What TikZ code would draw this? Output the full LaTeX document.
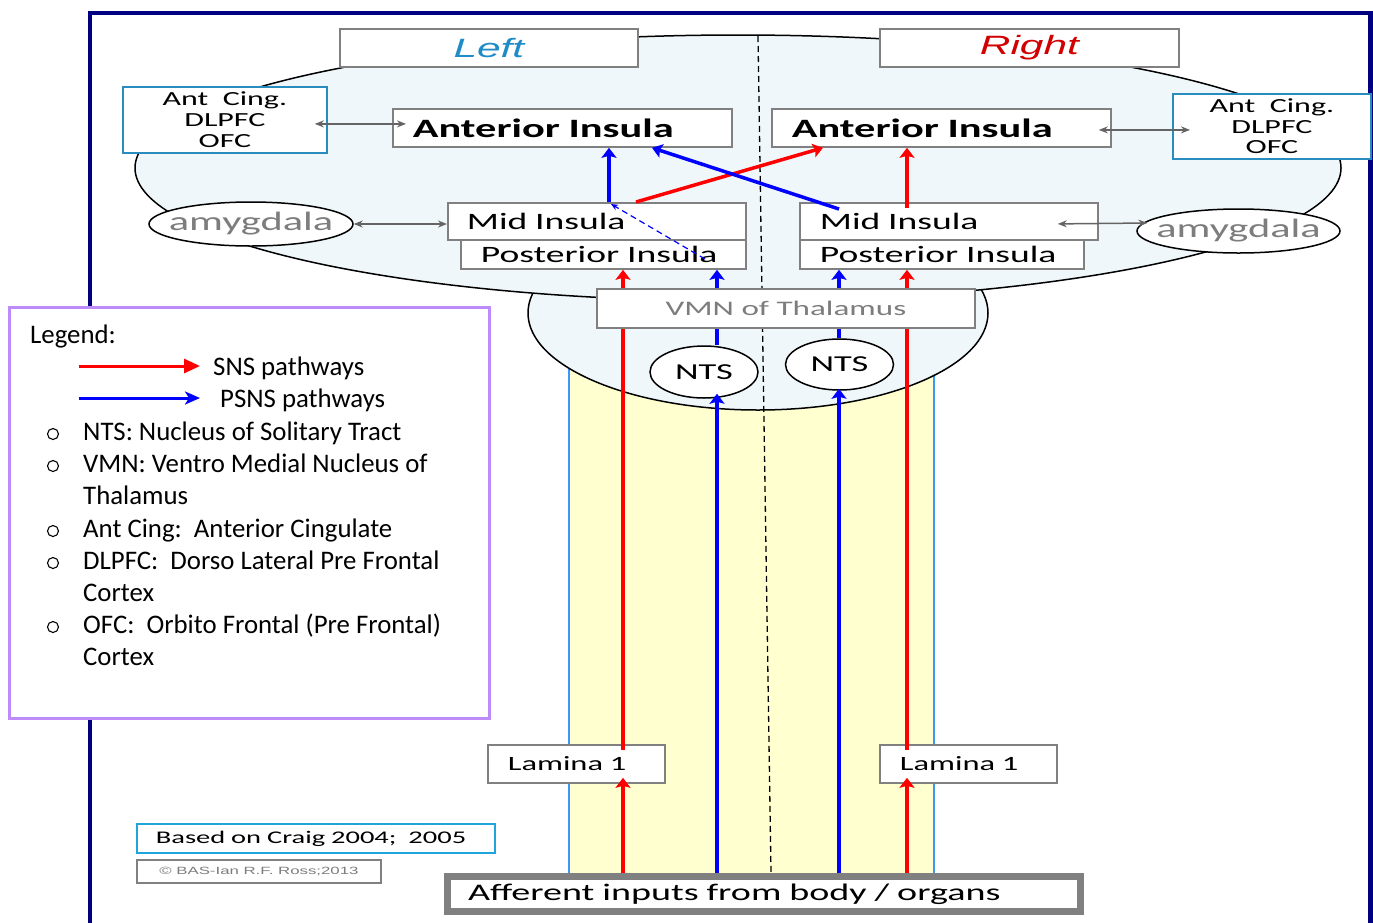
\documentclass[tikz,border=0pt]{standalone}
\usepackage{fontspec}
\setmainfont{Carlito}
\newfontfamily\wf[FakeStretch=1.6]{Carlito}
\newfontfamily\wfa[FakeStretch=1.6]{Liberation Sans}
\usetikzlibrary{shapes.geometric,arrows.meta,calc}
\definecolor{navyf}{RGB}{0,0,128}
\definecolor{brainc}{RGB}{240,247,250}
\definecolor{colyel}{RGB}{255,255,208}
\definecolor{colline}{RGB}{60,150,255}
\definecolor{boxgray}{RGB}{128,128,128}
\definecolor{cingblue}{RGB}{40,140,190}
\definecolor{craigblue}{RGB}{30,165,220}
\definecolor{legviolet}{RGB}{190,140,250}
\definecolor{leftc}{RGB}{30,140,200}
\definecolor{rightc}{RGB}{210,0,0}
\definecolor{txtgray}{RGB}{125,125,125}
\definecolor{arrgray}{RGB}{100,100,100}
\tikzset{
  gbox/.style={draw=boxgray, line width=1.8pt, fill=white, inner ysep=0pt, anchor=north west},
  lpad/.style 2 args={text width=#1pt, inner xsep=#2pt, align=left},
  amyg/.style={ellipse, draw=black, line width=1.5pt, fill=white, minimum width=204pt, minimum height=44pt, inner sep=0pt},
  amytxt/.style={text=txtgray, inner sep=0pt, font=\wf\fontsize{26.5}{28}\selectfont},
  ntsnode/.style={ellipse, draw=black, line width=1.5pt, fill=white, minimum width=108pt, minimum height=52pt, inner sep=0pt, font=\wf\fontsize{22.8}{24}\selectfont},
  sns/.style={draw=red, line width=4.5pt, -{Stealth[length=10pt,width=15pt,inset=2pt]}},
  psns/.style={draw=blue, line width=4.5pt, -{Stealth[length=10pt,width=15pt,inset=2pt]}},
  snsdiag/.style={draw=red, line width=3.5pt, -{Stealth[length=10pt,width=14pt,inset=2pt]}},
  psnsdiag/.style={draw=blue, line width=3.5pt, -{Stealth[length=10pt,width=14pt,inset=2pt]}},
  dashblue/.style={draw=blue, line width=1.2pt, dash pattern=on 6pt off 4pt, -{Stealth[length=7pt,width=6pt]}},
  dbl/.style={draw=arrgray, line width=1.5pt, {Stealth[length=9pt,width=7pt]}-{Stealth[length=9pt,width=7pt]}},
  legtxt/.style={anchor=base west, inner sep=0pt, font=\fontsize{26.8}{30}\selectfont},
}
\begin{document}
\begin{tikzpicture}[x=1pt,y=-1pt]
\useasboundingbox (0,0) rectangle (1373,922);
\clip (0,0) rectangle (1373,922);
\fill[white] (0,0) rectangle (1373,922);
% frame
\draw[navyf, line width=4.5pt] (90,13) rectangle (1370.5,960);
% spinal column
\fill[colyel] (569,330) rectangle (934,873);
\draw[colline, line width=1.5pt] (569,330) -- (569,873) (934,330) -- (934,873);
% thalamus and brain
\draw[fill=brainc, line width=1.5pt] (758,313) ellipse [x radius=230pt, y radius=97pt];
\draw[fill=brainc, line width=1.5pt] (738,168) ellipse [x radius=603pt, y radius=133pt];
% midline
\draw[line width=1.3pt, dash pattern=on 6pt off 4pt] (758,36) -- (771,872);

% side labels
\node[gbox, minimum width=298pt, minimum height=38pt, text=leftc, font=\wfa\itshape\fontsize{26.5}{28}\selectfont] (leftlab) at (339,28) {Left};
\node[gbox, minimum width=299pt, minimum height=38pt, text=rightc, font=\wfa\itshape\fontsize{26.5}{28}\selectfont] (rightlab) at (879,28) {Right};

% cingulate boxes
\node[gbox, draw=cingblue, minimum width=204pt, minimum height=66pt, align=center, font=\wf\fontsize{20}{21}\selectfont] (acL) at (122,86) {Ant\ \ Cing.\\DLPFC\\OFC};
\node[gbox, draw=cingblue, minimum width=198pt, minimum height=65pt, align=center, font=\wf\fontsize{20}{20.5}\selectfont] (acR) at (1172,93) {Ant\ \ Cing.\\DLPFC\\OFC};

% insula boxes
\node[gbox, minimum width=339pt, minimum height=38pt, lpad={299}{20}, font=\wf\bfseries\fontsize{26.5}{28}\selectfont] (antL) at (392,108) {\mbox{Anterior Insula}};
\node[gbox, minimum width=339pt, minimum height=38pt, lpad={299}{20}, font=\wf\bfseries\fontsize{26.5}{28}\selectfont] (antR) at (771,108) {\mbox{Anterior Insula}};
\node[gbox, minimum width=298pt, minimum height=37pt, lpad={260}{19}, font=\wf\fontsize{23.5}{25}\selectfont] (midL) at (447,202) {\mbox{Mid Insula}};
\node[gbox, minimum width=285pt, minimum height=29pt, lpad={245}{20}, font=\wf\fontsize{23.5}{25}\selectfont] (postL) at (460,239) {\mbox{Posterior Insula}};
\node[gbox, minimum width=298pt, minimum height=37pt, lpad={258}{20}, font=\wf\fontsize{23.5}{25}\selectfont] (midR) at (799,202) {\mbox{Mid Insula}};
\node[gbox, minimum width=284pt, minimum height=29pt, lpad={244}{20}, font=\wf\fontsize{23.5}{25}\selectfont] (postR) at (799,239) {\mbox{Posterior Insula}};

% amygdala
\node[amyg, label={[amytxt]center:amygdala}] (amyL) at (251,224) {};
\node[amyg, minimum width=203pt, label={[amytxt]center:amygdala}] (amyR) at (1238.5,231) {};

% NTS
\node[ntsnode] (ntsL) at (704,372) {NTS};
\node[ntsnode, minimum height=51pt] (ntsR) at (839.5,364.5) {NTS};

% lamina
\node[gbox, minimum width=177pt, minimum height=38pt, lpad={137}{20}, font=\wf\fontsize{20.3}{22}\selectfont] (lamL) at (487,744) {\mbox{Lamina 1}};
\node[gbox, minimum width=177pt, minimum height=38pt, lpad={137}{20}, font=\wf\fontsize{20.3}{22}\selectfont] (lamR) at (879,744) {\mbox{Lamina 1}};

% credits
\node[gbox, draw=craigblue, minimum width=358pt, minimum height=29pt, lpad={320}{19}, font=\wf\fontsize{17.8}{19}\selectfont] (craig) at (136,823) {\mbox{Based on Craig 2004;\ \ 2005}};
\node[gbox, minimum width=244pt, minimum height=23pt, text=txtgray, font=\wfa\fontsize{10.5}{12}\selectfont] (copyr) at (136,859) {\textcopyright{} BAS-Ian R.F. Ross;2013};

% afferent
\node[gbox, line width=7pt, outer sep=3.5pt, minimum width=633pt, minimum height=35pt, lpad={592}{20.5}, font=\wf\fontsize{23.8}{25}\selectfont] (aff) at (444,873) {\mbox{Afferent inputs from body / organs}};

% x positions of pathways
\coordinate (xRL) at (623,0);
\coordinate (xBL) at (717,0);
\coordinate (xBR) at (839,0);
\coordinate (xRR) at (907,0);
\coordinate (xBV) at (609,0);
\coordinate (xRD) at (636,0);
\coordinate (xRT) at (823,0);
\coordinate (xBT) at (652,0);

% ascending pathways
\draw[sns] (aff.north -| xRL) -- ($(lamL.south -| xRL)+(0,-6)$);
\draw[sns] ($(lamL.north -| xRL)+(0,6)$) -- (postL.south -| xRL);
\draw[psns] (aff.north -| xBL) -- ($(ntsL.south -| xBL)+(0,-5)$);
\draw[psns] (ntsL.north -| xBL) -- (postL.south -| xBL);
\draw[psns] (aff.north -| xBR) -- ($(ntsR.south -| xBR)+(0,-2)$);
\draw[psns] (ntsR.north -| xBR) -- (postR.south -| xBR);
\draw[sns] (aff.north -| xRR) -- ($(lamR.south -| xRR)+(0,-6)$);
\draw[sns] ($(lamR.north -| xRR)+(0,6)$) -- (postR.south -| xRR);

% within insula
\draw[psns] (midL.north -| xBV) -- (antL.south -| xBV);
\draw[snsdiag] (midL.north -| xRD) -- (antR.south -| xRT);
\draw[psnsdiag] ($(midR.north -| xBR)+(0,7)$) -- (antL.south -| xBT);
\draw[sns] ($(midR.north -| xRR)+(0,6)$) -- (antR.south -| xRR);
\draw[dashblue] ($(postL.north west)+(245,20)$) -- ($(midL.north west)+(164,2)$);

% grey two-way links
\draw[dbl] ($(acL.east)+(-13,4)$) -- ($(antL.west)+(14,-4)$);
\draw[dbl] (amyL.east) -- (midL.west |- amyL.east);
\draw[dbl] ($(antR.east)+(-13,2)$) -- ($(acR.west)+(18,3.5)$);
\draw[dbl] ($(midR.east)+(-41,2.5)$) -- ($(amyR.west)+(11,-8)$);

% VMN on top
\node[gbox, minimum width=378pt, minimum height=39pt, text=txtgray, font=\wf\fontsize{20.7}{22}\selectfont] (vmn) at (596,288) {VMN of Thalamus};

% legend
\node[draw=legviolet, line width=2.5pt, fill=white, anchor=north west, minimum width=480pt, minimum height=411pt, inner sep=0pt] (legend) at (8,306) {};
\node[legtxt] (lg0) at (30,343) {Legend:};
\coordinate (lr1) at (79,366);
\coordinate (lr2) at (200,366);
\draw[red, line width=3pt, -{Triangle[length=16pt,width=14pt]}] (lr1) -- (lr2);
\node[legtxt] (lg1) at (213,375) {SNS pathways};
\coordinate (lb1) at (79,398);
\coordinate (lb2) at (200,398);
\draw[blue, line width=3pt, -{Stealth[length=15pt,width=13pt,inset=4pt]}] (lb1) -- (lb2);
\node[legtxt] (lg2) at (220,407) {PSNS pathways};
\foreach \yy in {434,466,531,563,627} \draw[line width=1.1pt] (53,\yy) circle [radius=5.5pt];
\node[legtxt] (it1) at (83,440) {NTS: Nucleus of Solitary Tract};
\node[legtxt] (it2) at (83,472) {VMN: Ventro Medial Nucleus of};
\node[legtxt] (it3) at (83,504) {Thalamus};
\node[legtxt] (it4) at (83,537) {Ant Cing:\ \ Anterior Cingulate};
\node[legtxt] (it5) at (83,569) {DLPFC:\ \ Dorso Lateral Pre Frontal};
\node[legtxt] (it6) at (83,601) {Cortex};
\node[legtxt] (it7) at (83,633) {OFC:\ \ Orbito Frontal (Pre Frontal)};
\node[legtxt] (it8) at (83,665) {Cortex};
\end{tikzpicture}
\end{document}
